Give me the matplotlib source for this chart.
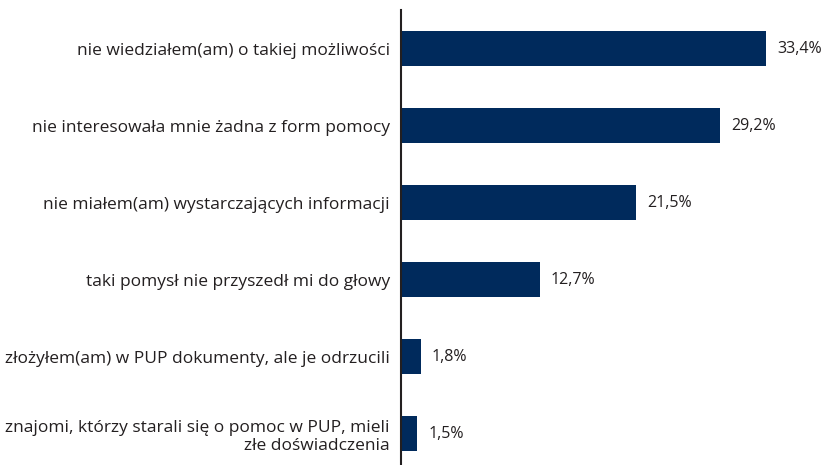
import matplotlib
matplotlib.use('Agg')
import matplotlib.pyplot as plt

plt.rcParams['font.family'] = ['Open Sans', 'DejaVu Sans']

categories = [
    'nie wiedziałem(am) o takiej możliwości',
    'nie interesowała mnie żadna z form pomocy',
    'nie miałem(am) wystarczających informacji',
    'taki pomysł nie przyszedł mi do głowy',
    'złożyłem(am) w PUP dokumenty, ale je odrzucili',
    'znajomi, którzy starali się o pomoc w PUP, mieli\nzłe doświadczenia',
]
values = [33.4, 29.2, 21.5, 12.7, 1.8, 1.5]
value_labels = ['33,4%', '29,2%', '21,5%', '12,7%', '1,8%', '1,5%']

bar_color = '#002a5c'
text_color = '#231f20'

fig = plt.figure(figsize=(8.3, 4.65), dpi=100)
ax = fig.add_axes([0.483, 0.0, 0.5, 0.9785])

pos = list(range(len(categories)))
ax.barh(pos, values, height=0.455, color=bar_color)

for p, v, lab in zip(pos, values, value_labels):
    ax.annotate(lab, (v, p), xytext=(8, 0), textcoords='offset points',
                va='center', ha='left', fontsize=11.5, color=text_color)

ax.set_yticks(pos)
ax.set_yticklabels(categories, fontsize=12.5, color=text_color, ha='right',
                   multialignment='right', linespacing=1.15)
ax.tick_params(axis='y', length=0, pad=8)
ax.set_xticks([])
ax.set_xlim(0, 37.95)
ax.set_ylim(5.403, -0.506)

for s in ['top', 'right', 'bottom']:
    ax.spines[s].set_visible(False)
ax.spines['left'].set_color(text_color)
ax.spines['left'].set_linewidth(1.5)

fig.savefig('out.png', dpi=100)
